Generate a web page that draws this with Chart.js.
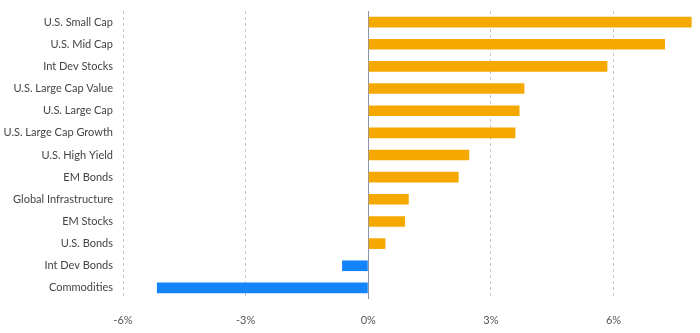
<!DOCTYPE html>
<html>
<head>
<meta charset="utf-8">
<script src="https://cdn.jsdelivr.net/npm/chart.js@4/dist/chart.umd.min.js"></script>
<style>
  html, body { margin: 0; padding: 0; background: #fff; }
  #wrap { width: 700px; height: 333px; }
</style>
</head>
<body>
<div id="wrap"><canvas id="returns"></canvas></div>
<script>
const categories = [
    'U.S. Small Cap', 'U.S. Mid Cap', 'Int Dev Stocks', 'U.S. Large Cap Value',
    'U.S. Large Cap', 'U.S. Large Cap Growth', 'U.S. High Yield', 'EM Bonds',
    'Global Infrastructure', 'EM Stocks', 'U.S. Bonds', 'Int Dev Bonds', 'Commodities'
];
const returnsPct = [7.91, 7.26, 5.85, 3.82, 3.70, 3.60, 2.47, 2.21, 0.99, 0.90, 0.42, -0.64, -5.17];
const xTicks = [-6, -3, 0, 3, 6];

const orange = '#f4a800';
const blue = '#1484fb';

const barColors = returnsPct.map(v => v < 0 ? blue : orange);

// solid zero line over the dashed grid
const zeroLine = {
    id: 'zeroLine',
    beforeDatasetsDraw: chart => {
        const x = chart.scales.x.getPixelForValue(0);
        const area = chart.chartArea;
        const c = chart.ctx;
        c.save();
        c.fillStyle = '#fff';
        c.fillRect(x - 1, area.top, 3, area.bottom - area.top);
        c.strokeStyle = '#8c95a8';
        c.lineWidth = 1;
        c.beginPath();
        c.moveTo(Math.round(x) + 0.5, area.top);
        c.lineTo(Math.round(x) + 0.5, area.bottom);
        c.stroke();
        c.restore();
    }
};

new Chart(document.getElementById('returns'), {
    type: 'bar',
    data: {
        labels: categories,
        datasets: [{
            data: returnsPct,
            backgroundColor: barColors,
            borderWidth: 0,
            barPercentage: 0.48,
            categoryPercentage: 1
        }]
    },
    options: {
        indexAxis: 'y',
        responsive: true,
        maintainAspectRatio: false,
        animation: false,
        layout: { padding: { top: 11, right: 8, left: 0, bottom: 0 } },
        plugins: {
            legend: { display: false },
            tooltip: { enabled: false }
        },
        scales: {
            x: {
                min: -6,
                max: 7.92,
                afterBuildTicks: scale => {
                    scale.ticks = xTicks.map(v => ({ value: v }));
                },
                grid: {
                    drawTicks: false,
                    color: '#c8c8c8',
                    lineWidth: 1
                },
                border: { display: false, dash: [3, 3] },
                ticks: {
                    padding: 15,
                    color: '#555',
                    font: { family: 'Lato', size: 11 },
                    callback: v => v + '%'
                },
                afterFit: scale => {
                    scale.height = 34;
                    scale.paddingLeft = 0;
                    scale.paddingRight = 0;
                }
            },
            y: {
                grid: { display: false, drawTicks: false },
                border: { display: false },
                ticks: {
                    padding: 10,
                    color: '#444',
                    font: { family: 'Lato', size: 11 }
                },
                afterFit: scale => {
                    scale.width = 123;
                    scale.paddingTop = 0;
                    scale.paddingBottom = 0;
                }
            }
        }
    },
    plugins: [zeroLine]
});
</script>
</body>
</html>
